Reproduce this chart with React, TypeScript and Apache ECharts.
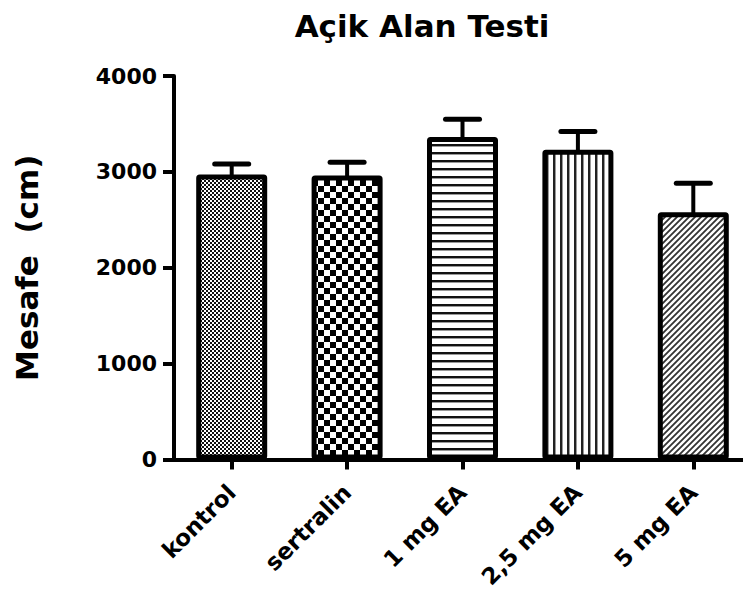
import React, { useEffect, useRef } from "react";
import * as echarts from "echarts";

const categories = ["kontrol", "sertralin", "1 mg EA", "2,5 mg EA", "5 mg EA"];
const means = [2972, 2962, 3365, 3230, 2580];
const sem = [110, 138, 185, 191, 302];
const yMin = 0;
const yMax = 4000;
const yStep = 1000;
const title = "Açik Alan Testi";
const yName = "Mesafe  (cm)";
const patternKinds = ["fineCheck", "coarseCheck", "hLines", "vLines", "diag"];

function makePattern(kind: string) {
  const c = document.createElement("canvas");
  let w = 4;
  let h = 4;
  if (kind === "coarseCheck") { w = 12; h = 12; }
  if (kind === "hLines") { w = 8; h = 8; }
  if (kind === "vLines") { w = 7; h = 7; }
  if (kind === "diag") { w = 6; h = 6; }
  c.width = w;
  c.height = h;
  const ctx = c.getContext("2d")!;
  ctx.fillStyle = "#fff";
  ctx.fillRect(0, 0, w, h);
  if (kind === "fineCheck") {
    ctx.fillStyle = "#111";
    ctx.fillRect(0, 0, 2, 2);
    ctx.fillRect(2, 2, 2, 2);
  } else if (kind === "coarseCheck") {
    ctx.fillStyle = "#000";
    ctx.fillRect(0, 0, 6, 6);
    ctx.fillRect(6, 6, 6, 6);
  } else if (kind === "hLines") {
    ctx.fillStyle = "#111";
    ctx.fillRect(0, 0, w, 2);
    ctx.fillStyle = "#999";
    ctx.fillRect(0, 2, w, 1);
  } else if (kind === "vLines") {
    ctx.fillStyle = "#222";
    ctx.fillRect(0, 0, 2, h);
    ctx.fillStyle = "#999";
    ctx.fillRect(2, 0, 1, h);
  } else if (kind === "diag") {
    ctx.strokeStyle = "#333";
    ctx.lineWidth = 1.8;
    ctx.beginPath();
    ctx.moveTo(-1, h + 1); ctx.lineTo(w + 1, -1);
    ctx.moveTo(-1, 1); ctx.lineTo(1, -1);
    ctx.moveTo(w - 1, h + 1); ctx.lineTo(w + 1, h - 1);
    ctx.stroke();
  }
  return { image: c, repeat: "repeat", imageWidth: w, imageHeight: h };
}

export default function App() {
  const ref = useRef<HTMLDivElement>(null);
  useEffect(() => {
    document.body.style.margin = "0";
    const chart = echarts.init(ref.current!, null, { renderer: "svg" });
    const font = "DejaVu Sans";
    const option: any = {
      animation: false,
      backgroundColor: "#fff",
      textStyle: { fontFamily: font, fontWeight: "bold", color: "#000" },
      graphic: [
        {
          type: "text",
          x: 422,
          y: 26,
          style: {
            text: title,
            font: "bold 31px 'DejaVu Sans'",
            fill: "#000",
            textAlign: "center",
            textVerticalAlign: "middle",
          },
        },
      ],
      grid: {
        left: 174,
        top: 76,
        width: 577,
        height: 383.5,
        containLabel: false,
        outerBoundsMode: "none",
      },
      xAxis: {
        type: "category",
        data: categories,
        boundaryGap: true,
        axisLine: { show: true, lineStyle: { color: "#000", width: 4 } },
        axisTick: { show: true, alignWithLabel: true, length: 10, lineStyle: { color: "#000", width: 4 } },
        axisLabel: {
          rotate: 45,
          margin: 29,
          fontSize: 23,
          fontWeight: "bold",
          fontFamily: font,
          color: "#000",
          interval: 0,
        },
        splitLine: { show: false },
      },
      yAxis: {
        type: "value",
        min: yMin,
        max: yMax,
        interval: yStep,
        name: yName,
        nameLocation: "middle",
        nameRotate: 90,
        nameGap: 132,
        nameTextStyle: { fontSize: 31, fontWeight: "bold", fontFamily: font, color: "#000" },
        axisLine: { show: true, lineStyle: { color: "#000", width: 4 } },
        axisTick: { show: true, length: 11, lineStyle: { color: "#000", width: 4 } },
        axisLabel: {
          margin: 17,
          fontSize: 22,
          fontWeight: "bold",
          fontFamily: font,
          color: "#000",
          formatter: (v: number) => String(v),
        },
        splitLine: { show: false },
      },
      series: [
        {
          type: "custom",
          z: 1,
          data: categories.map((_, i) => [i, means[i], means[i] + sem[i]]),
          renderItem: (params: any, api: any) => {
            const base = api.coord([api.value(0), api.value(1)]);
            const top = api.coord([api.value(0), api.value(2)]);
            const half = 17;
            return {
              type: "group",
              children: [
                {
                  type: "line",
                  shape: { x1: base[0], y1: base[1] + 3, x2: top[0], y2: top[1] },
                  style: { stroke: "#000", lineWidth: 4 },
                },
                {
                  type: "line",
                  shape: { x1: top[0] - half, y1: top[1], x2: top[0] + half, y2: top[1] },
                  style: { stroke: "#000", lineWidth: 5, lineCap: "round" },
                },
              ],
            };
          },
        },
        {
          type: "bar",
          z: 2,
          barWidth: 71,
          data: means.map((v, i) => ({
            value: v,
            itemStyle: {
              color: makePattern(patternKinds[i]),
              borderColor: "#000",
              borderWidth: 5,
              borderRadius: 1,
            },
          })),
        },
      ],
    };
    chart.setOption(option);
    return () => chart.dispose();
  }, []);
  return (
    <div
      ref={ref}
      style={{ position: "absolute", left: 0, top: 0, width: 743, height: 596, background: "#fff" }}
    />
  );
}
